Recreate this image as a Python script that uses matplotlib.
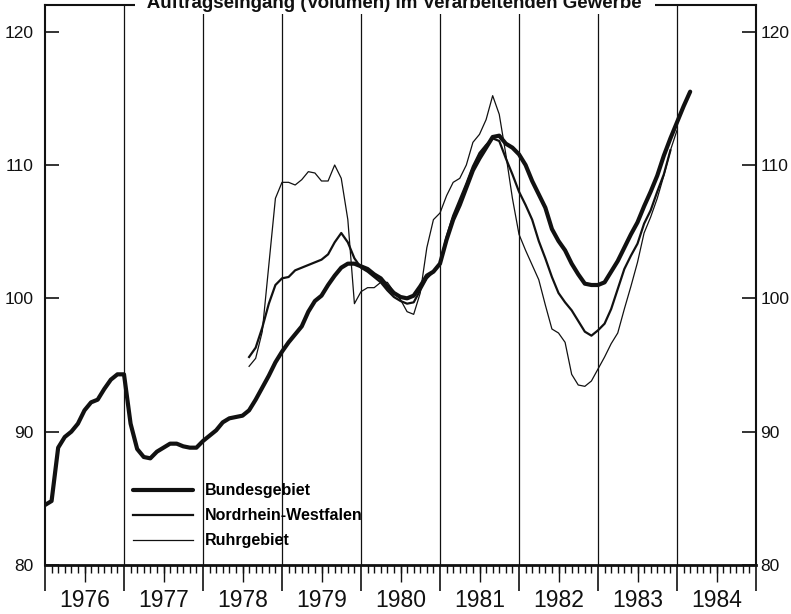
import numpy as np
import matplotlib
matplotlib.use('Agg')
import matplotlib.pyplot as plt
from matplotlib.ticker import FixedLocator, NullFormatter

plt.rcParams['font.family'] = ['Liberation Sans', 'DejaVu Sans']

# ---------------- data (monthly index values) ----------------
start_year = 1976
bund_start = 0      # month offset from Jan 1976
bundesgebiet = [
    84.5, 84.8, 88.8, 89.6, 90.0, 90.6, 91.6, 92.2, 92.4, 93.2, 93.9, 94.3,
    94.3, 90.6, 88.7, 88.1, 88.0, 88.5, 88.8, 89.1, 89.1, 88.9, 88.8, 88.8,
    89.3, 89.7, 90.1, 90.7, 91.0, 91.1, 91.2, 91.6, 92.4, 93.3, 94.2, 95.2,
    96.0, 96.7, 97.3, 97.9, 99.0, 99.8, 100.2, 101.0, 101.7, 102.3, 102.6, 102.6,
    102.4, 102.2, 101.8, 101.5, 100.9, 100.4, 100.1, 100.0, 100.2, 100.9, 101.7, 102.0,
    102.6, 104.4, 105.9, 107.0, 108.3, 109.6, 110.5, 111.3, 112.1, 112.2, 111.6, 111.3,
    110.8, 110.0, 108.8, 107.8, 106.8, 105.2, 104.3, 103.6, 102.6, 101.8, 101.1, 101.0,
    101.0, 101.2, 102.0, 102.8, 103.8, 104.8, 105.7, 106.9, 108.0, 109.2, 110.7, 112.0,
    113.2, 114.4, 115.5,
]
nrw_start = 31
nrw = [
    95.6, 96.3, 97.8, 99.6, 101.0,
    101.5, 101.6, 102.1, 102.3, 102.5, 102.7, 102.9, 103.3, 104.2, 104.9, 104.2, 103.0,
    102.3, 102.0, 101.6, 101.2, 100.6, 100.1, 99.8, 99.6, 99.7, 100.6, 101.5, 102.0,
    102.6, 104.6, 106.2, 107.4, 108.6, 109.9, 110.9, 111.5, 112.0, 111.8, 110.5, 109.3,
    108.0, 107.0, 105.9, 104.3, 103.0, 101.6, 100.4, 99.7, 99.1, 98.3, 97.5, 97.2,
    97.6, 98.1, 99.2, 100.7, 102.2, 103.2, 104.1, 105.6, 106.6, 108.0, 109.3, 111.1,
]
ruhr_start = 31
ruhr = [
    94.9, 95.5, 97.5, 102.5, 107.5,
    108.7, 108.7, 108.5, 108.9, 109.5, 109.4, 108.8, 108.8, 110.0, 109.0, 105.9, 99.6,
    100.5, 100.8, 100.8, 101.2, 101.2, 100.5, 99.9, 99.0, 98.8, 100.4, 103.8, 105.9,
    106.4, 107.7, 108.7, 109.0, 110.0, 111.7, 112.3, 113.4, 115.2, 113.8, 110.8, 107.5,
    104.8, 103.6, 102.5, 101.4, 99.5, 97.7, 97.4, 96.7, 94.3, 93.5, 93.4, 93.8,
    94.7, 95.6, 96.6, 97.4, 99.2, 100.9, 102.7, 104.9, 106.1, 107.5, 109.2, 111.1, 112.6,
]
year_bounds = list(range(1976, 1986))
year_labels = [str(y) for y in range(1976, 1985)]
y_ticks = [80, 90, 100, 110, 120]
y_tick_labels = ['80', '90', '100', '110', '120']
title_text = "Auftragseingang (Volumen) im Verarbeitenden Gewerbe"
series_labels = ["Bundesgebiet", "Nordrhein-Westfalen", "Ruhrgebiet"]


def month_axis(start, n):
    return start_year + (start + np.arange(n)) / 12.0


# ---------------- figure ----------------
W, H = 791, 614
fig = plt.figure(figsize=(W / 100, H / 100), dpi=100)
ax = fig.add_axes([45 / W, 49 / H, 711 / W, 560 / H])

ink = '#111111'
lw_b, lw_n, lw_r = 3.0, 1.6, 0.9
l1, = ax.plot(month_axis(bund_start, len(bundesgebiet)), bundesgebiet, color=ink,
              lw=lw_b, solid_joinstyle='round', solid_capstyle='round', zorder=5)
l2, = ax.plot(month_axis(nrw_start, len(nrw)), nrw, color=ink,
              lw=lw_n, solid_joinstyle='round', zorder=4)
l3, = ax.plot(month_axis(ruhr_start, len(ruhr)), ruhr, color=ink,
              lw=lw_r, solid_joinstyle='round', zorder=3)

ax.set_xlim(year_bounds[0], year_bounds[-1])
ax.set_ylim(80, 122)

for yb in year_bounds[1:-1]:
    ax.axvline(yb, color=ink, lw=0.9, zorder=1)

for s in ax.spines.values():
    s.set_color(ink)
    s.set_linewidth(1.5)
ax.spines['bottom'].set_linewidth(2.0)

# x ticks: year boundaries (long), months (short)
ax.xaxis.set_major_locator(FixedLocator(year_bounds))
ax.xaxis.set_major_formatter(NullFormatter())
month_ticks = [start_year + k / 12.0 for k in range(0, 12 * 9 + 1)]
ax.xaxis.set_minor_locator(FixedLocator(month_ticks))
ax.tick_params(axis='x', which='major', direction='out', length=19, width=1.2, color=ink)
ax.tick_params(axis='x', which='minor', direction='out', length=5.5, width=1.0, color=ink)

# mid-year ticks with year labels
sec = ax.secondary_xaxis('bottom')
sec.set_xticks([y + 0.5 for y in range(1976, 1985)], labels=year_labels)
sec.tick_params(axis='x', direction='out', length=12, width=1.0, color=ink,
                labelsize=16.5, pad=5.5, labelcolor=ink)
sec.spines['bottom'].set_visible(False)

# y ticks left and right
ax.set_yticks(y_ticks, labels=y_tick_labels)
ax.tick_params(axis='y', direction='in', length=10, width=1.2, color=ink,
               labelsize=12.5, pad=8, labelcolor=ink, right=True)
secy = ax.secondary_yaxis('right')
secy.set_yticks(y_ticks, labels=y_tick_labels)
secy.tick_params(axis='y', direction='in', length=0, labelsize=12.5, pad=3, labelcolor=ink)
secy.spines['right'].set_visible(False)

# legend
leg = ax.legend([l1, l2, l3], series_labels, loc='lower left',
                bbox_to_anchor=(0.1238, 0.030), frameon=False,
                handlelength=3.75, handletextpad=0.75, labelspacing=0.62,
                borderpad=0, borderaxespad=0,
                prop={'family': ['Liberation Sans', 'DejaVu Sans'], 'weight': 'bold', 'size': 11.5})

# title overlapping the top frame
fig.text(0.4994, 1 - 7.5 / H, '  ' + title_text + '  ', ha='center', va='baseline',
         fontsize=13.5, fontweight='bold', color=ink, zorder=10,
         bbox=dict(facecolor='white', edgecolor='none', boxstyle='square,pad=0.15'))

fig.savefig('out.png', dpi=100, facecolor='white')
